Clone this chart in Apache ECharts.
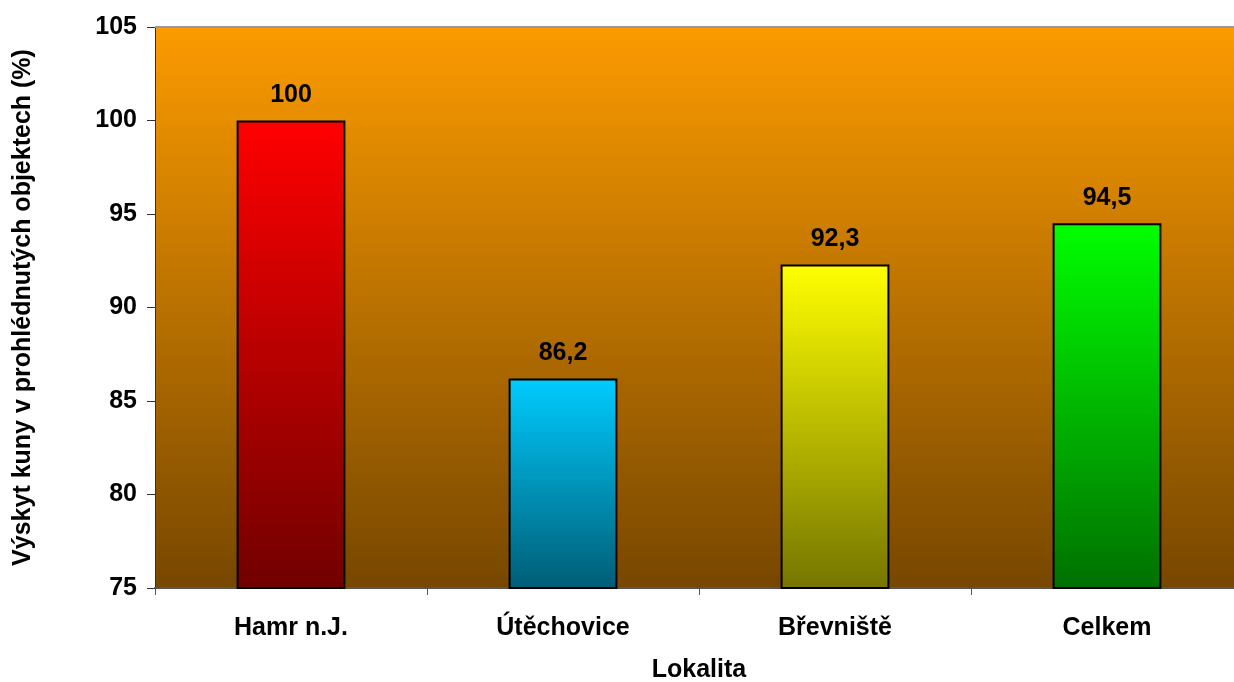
<!DOCTYPE html>
<html>
<head>
<meta charset="utf-8">
<script src="https://cdn.jsdelivr.net/npm/echarts@6/dist/echarts.min.js"></script>
<style>
  html, body { margin: 0; padding: 0; background: #fff; }
  #chart { width: 1234px; height: 682px; }
</style>
</head>
<body>
<div id="chart"></div>
<script>
var lokality = ['Hamr n.J.', 'Útěchovice', 'Břevniště', 'Celkem'];
var vyskyt = [100, 86.2, 92.3, 94.5];
// top / bottom colour of each bar's gradient
var barTop = ['#ff0000', '#00ccff', '#ffff00', '#00ff00'];
var barBottom = ['#710000', '#005d75', '#757500', '#007000'];

function grad(c0, c1) {
  return new echarts.graphic.LinearGradient(0, 0, 0, 1, [
    { offset: 0, color: c0 },
    { offset: 1, color: c1 }
  ]);
}

var chart = echarts.init(document.getElementById('chart'));
var font = 'Liberation Sans, Arial, sans-serif';

chart.setOption({
  animation: false,
  grid: {
    left: 155, right: -9, top: 27, bottom: 94,
    outerBoundsMode: 'none',
    containLabel: false,
    show: true,
    borderWidth: 0,
    backgroundColor: grad('#fc9b00', '#774700')
  },
  xAxis: {
    type: 'category',
    data: lokality,
    name: 'Lokalita',
    nameLocation: 'middle',
    nameGap: 70,
    nameTextStyle: { fontFamily: font, fontWeight: 'bold', fontSize: 25, color: '#000' },
    axisLine: { lineStyle: { color: '#555', width: 2 } },
    axisTick: { show: true, length: 7, alignWithLabel: false, lineStyle: { color: '#555' } },
    axisLabel: { fontFamily: font, fontWeight: 'bold', fontSize: 25, color: '#000', margin: 28 }
  },
  yAxis: {
    type: 'value',
    min: 75, max: 105, interval: 5,
    name: 'Výskyt kuny v prohlédnutých objektech (%)',
    nameLocation: 'middle',
    nameGap: 119,
    nameRotate: 90,
    nameTextStyle: { fontFamily: font, fontWeight: 'bold', fontSize: 25, color: '#000' },
    axisLine: { show: true, lineStyle: { color: '#333', width: 1 } },
    axisTick: { show: true, length: 8, lineStyle: { color: '#333' } },
    splitLine: { show: false },
    axisLabel: { fontFamily: font, fontWeight: 'bold', fontSize: 25, color: '#000', margin: 18 }
  },
  series: [
    {
      type: 'bar',
      barWidth: '40%',
      data: vyskyt.map(function (v, i) {
        return { value: v, itemStyle: { color: grad(barTop[i], barBottom[i]) } };
      }),
      itemStyle: { borderColor: '#000', borderWidth: 2 },
      label: {
        show: true,
        position: 'top',
        distance: 13,
        fontFamily: font, fontWeight: 'bold', fontSize: 25, color: '#000',
        formatter: function (p) { return String(p.value).replace('.', ','); }
      }
    },
    {
      // grey top frame line of the plot area
      type: 'line',
      data: [],
      markLine: {
        silent: true, symbol: 'none', label: { show: false },
        lineStyle: { color: '#999', width: 2, type: 'solid' },
        data: [{ yAxis: 105 }]
      }
    }
  ]
});
</script>
</body>
</html>
